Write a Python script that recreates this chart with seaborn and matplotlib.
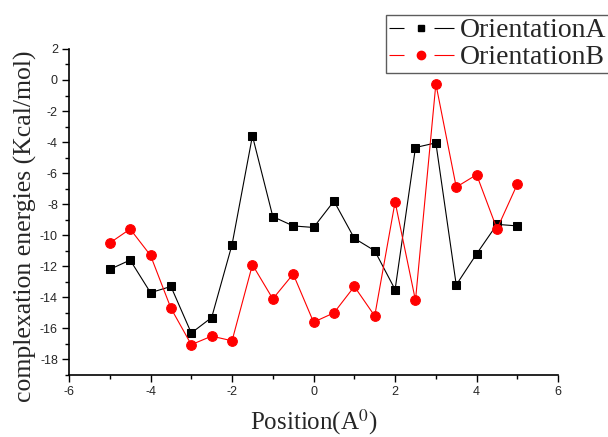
import matplotlib
matplotlib.use("Agg")
import matplotlib.pyplot as plt
import seaborn as sns
import pandas as pd
from matplotlib.ticker import MultipleLocator
from matplotlib.lines import Line2D

# === Data ===
positions = [-5, -4.5, -4, -3.5, -3, -2.5, -2, -1.5, -1, -0.5, 0,
             0.5, 1, 1.5, 2, 2.5, 3, 3.5, 4, 4.5, 5]
orientation_a = [-12.2, -11.6, -13.7, -13.3, -16.3, -15.3, -10.6, -3.6, -8.8, -9.4, -9.5,
                 -7.8, -10.2, -11.0, -13.5, -4.35, -4.05, -13.2, -11.2, -9.3, -9.4]
orientation_b = [-10.5, -9.6, -11.3, -14.7, -17.05, -16.5, -16.8, -11.9, -14.1, -12.5, -15.6,
                 -15.0, -13.3, -15.2, -7.85, -14.2, -0.25, -6.9, -6.1, -9.6, -6.7]
series_names = ["OrientationA", "OrientationB"]

df = pd.DataFrame({"pos": positions, "A": orientation_a, "B": orientation_b})

sns.set_style("ticks")
plt.rcParams["mathtext.fontset"] = "stix"
plt.rcParams["axes.unicode_minus"] = False

fig = plt.figure(figsize=(6.08, 4.37), dpi=100)
ax = fig.add_axes([0.1135, 0.142, 0.8045, 0.746])

sns.lineplot(x="pos", y="A", data=df, ax=ax, color="black", linewidth=0.8,
             marker="s", markersize=6, markeredgecolor="black", legend=False)
sns.lineplot(x="pos", y="B", data=df, ax=ax, color="red", linewidth=0.8,
             marker="o", markersize=7, markeredgecolor="red", legend=False)

ax.set_xlim(-6, 6)
ax.set_ylim(-19, 2)
ax.xaxis.set_major_locator(MultipleLocator(2))
ax.xaxis.set_minor_locator(MultipleLocator(1))
ax.yaxis.set_minor_locator(MultipleLocator(1))
ax.set_yticks(range(-18, 3, 2))

for lbl in ax.get_xticklabels() + ax.get_yticklabels():
    lbl.set_fontfamily("Liberation Sans")
    lbl.set_fontsize(9)
ax.tick_params(which="major", length=5, width=1, color="black", direction="out", pad=3)
ax.tick_params(which="minor", length=3, width=1, color="black", direction="out")

sns.despine(ax=ax)
for s in ["left", "bottom"]:
    ax.spines[s].set_linewidth(1.2)
    ax.spines[s].set_color("black")

ax.set_xlabel("Position(A$^{0}$)", fontfamily="Liberation Serif", fontsize=18)
ax.xaxis.set_label_coords(0.5, -0.1)
ax.set_ylabel("complexation energies (Kcal/mol)", fontfamily="Liberation Serif", fontsize=18.5)
ax.yaxis.set_label_coords(-0.066, 0.457)

# Origin-style legend handles: short line, gap, marker, gap, line
dash = (0, (13.5, 27, 18, 60))
handles = [
    (Line2D([], [], color="black", lw=0.8, linestyle=dash),
     Line2D([], [], color="black", marker="s", markersize=5, linestyle="none")),
    (Line2D([], [], color="red", lw=0.8, linestyle=dash),
     Line2D([], [], color="red", marker="o", markersize=6, linestyle="none")),
]
leg = ax.legend(handles, series_names, loc="lower left",
                bbox_to_anchor=(386 / 608, 1 - 73 / 437), bbox_transform=fig.transFigure,
                prop={"family": "Liberation Serif", "size": 20},
                frameon=True, fancybox=False, borderpad=0.1, handlelength=2.35,
                handletextpad=0.2, labelspacing=0.05, borderaxespad=0)
leg.get_frame().set_edgecolor("#333333")
leg.get_frame().set_linewidth(1.0)

plt.savefig("out.png", dpi=100)
